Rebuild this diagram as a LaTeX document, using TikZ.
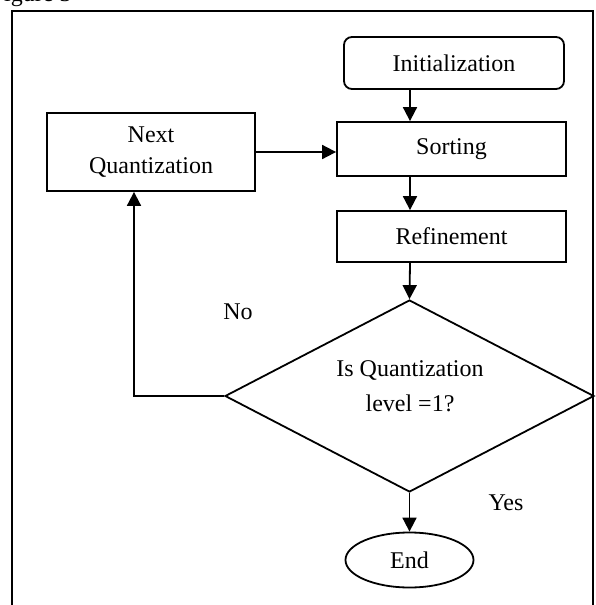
\documentclass[tikz,border=0pt]{standalone}
\usepackage{fontspec}
\setmainfont{Liberation Serif}
\usetikzlibrary{arrows.meta,shapes.geometric}
\begin{document}
\begin{tikzpicture}[x=0.5pt,y=-0.5pt,
  line width=0.9pt,
  every node/.style={font=\fontsize{12}{15.5}\selectfont},
  box/.style={draw,rectangle,inner sep=0pt,align=center},
  rbox/.style={box,rounded corners=4pt},
  decision/.style={draw,diamond,inner sep=0pt,minimum width=184.5pt,minimum height=96pt},
  term/.style={draw,ellipse,inner sep=0pt,minimum width=64pt,minimum height=27.5pt},
  lbl/.style={inner sep=0pt},
  arr/.style={-{Triangle[length=7pt,width=7pt]}}]
\useasboundingbox (0,0) rectangle (595,605);
% frame (open at the bottom, cut by the page)
\coordinate (fbl) at (12,615);
\coordinate (ftl) at (12,11);
\coordinate (ftr) at (593,11);
\coordinate (fbr) at (593,615);
\draw (fbl) -- (ftl) -- (ftr) -- (fbr);
\node[lbl,anchor=base west] (cap) at (-10,2) {Figure 3};
% nodes
\node[rbox,minimum width=110pt,minimum height=26pt] (init) at (454,63) {Initialization};
\node[box,minimum width=114.5pt,minimum height=27pt] (sort) at (451.5,149) {Sorting};
\node[box,minimum width=114.5pt,minimum height=25.5pt] (refine) at (451.5,236.5) {Refinement};
\node[box,minimum width=104pt,minimum height=39pt] (nextq) at (151,152) {Next\\Quantization};
\node[decision] (dia) at (409.5,396) {};
\node[lbl,align=center,font=\fontsize{12}{17.5}\selectfont] (dtext) at (410,386) {Is Quantization\\level =1?};
\node[term] (end) at (409.5,560) {End};
\node[lbl] (no) at (238,312) {No};
\node[lbl] (yes) at (506,503) {Yes};
% helper coordinates
\coordinate (ax) at (410,0);
\coordinate (lx) at (134,0);
% connectors
\draw[arr] (init.south -| ax) -- (sort.north -| ax);
\draw[arr] (sort.south -| ax) -- (refine.north -| ax);
\draw[arr] (refine.south -| ax) -- (dia.north);
\draw[arr] (dia.south) -- (end.north);
\draw[arr] (dia.west) -- (dia.west -| lx) -- (nextq.south -| lx);
\draw[arr] (nextq.east) -- (nextq.east -| sort.west);
\end{tikzpicture}
\end{document}
